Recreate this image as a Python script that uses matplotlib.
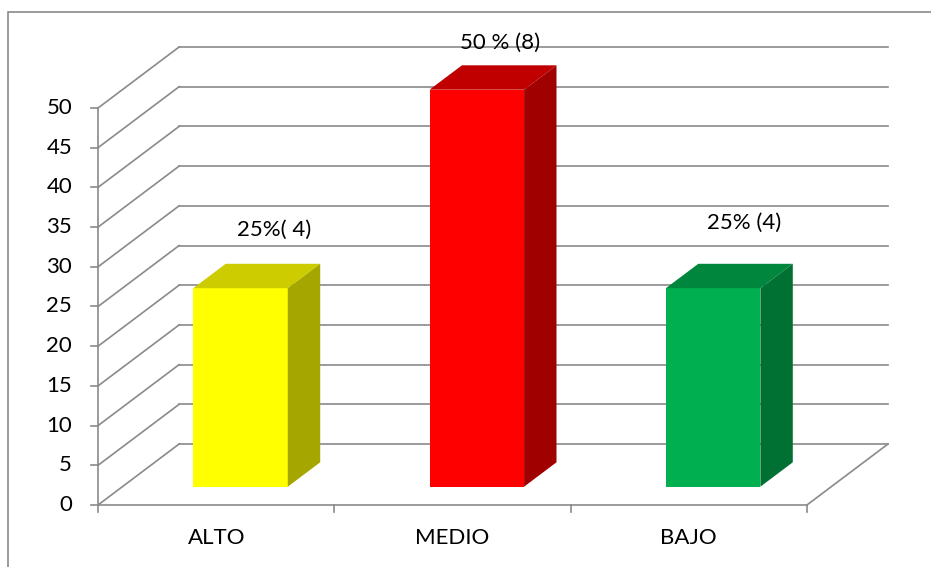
"""3D-style column chart: ALTO / MEDIO / BAJO."""

import matplotlib

matplotlib.use("Agg")
import matplotlib.pyplot as plt
from matplotlib.patches import Polygon, Rectangle

categories = ["ALTO", "MEDIO", "BAJO"]
values = [25, 50, 25]
labels = ["25%( 4)", "50 % (8)", "25% (4)"]
y_ticks = [0, 5, 10, 15, 20, 25, 30, 35, 40, 45, 50]

front_colors = ["#FFFF00", "#FF0000", "#00B050"]
top_colors = ["#CCCC00", "#C00000", "#00873D"]
side_colors = ["#A6A600", "#A00000", "#007033"]

# label nudges (category units, value units) relative to bar centre / top
label_shift = [(0.245, 9.6), (0.20, 8.2), (0.235, 10.5)]

GRID = "#8A8A8A"
LW = 1.2
FS = 16
DX, DY = 0.343, 7.68          # depth offset of the back wall
BAR_W, D0, T = 0.40, 0.30, 0.40   # bar width, front depth, bar depth

plt.rcParams["font.family"] = ["Lato", "DejaVu Sans"]

fig = plt.figure(figsize=(9.31, 5.67), dpi=100)
ax = fig.add_axes([0, 0, 1, 1])
ax.set_xlim(-0.415, 3.525)
ax.set_ylim(-7.81, 63.6)
ax.axis("off")

n = len(categories)

# back wall + left wall gridlines
for v in y_ticks:
    ax.plot([DX, n + DX], [v + DY, v + DY], color=GRID, lw=LW, zorder=1)
    ax.plot([0, DX], [v, v + DY], color=GRID, lw=LW, zorder=1)
    ax.plot([-0.03, 0], [v, v], color=GRID, lw=LW, zorder=1)
    ax.text(-0.11, v, str(v), ha="right", va="center", fontsize=FS, zorder=3)

# floor
ax.plot([0, n], [0, 0], color=GRID, lw=LW, zorder=1)
ax.plot([n, n + DX], [0, DY], color=GRID, lw=LW, zorder=1)
ax.plot([0, 0], [0, max(y_ticks)], color=GRID, lw=LW, zorder=1)
for i in range(n + 1):
    ax.plot([i, i], [0, -0.9], color=GRID, lw=LW, zorder=1)

for i, (cat, v) in enumerate(zip(categories, values)):
    x0 = i + 0.5 - BAR_W / 2 + D0 * DX
    yb = D0 * DY
    yt = yb + v
    tx, ty = T * DX, T * DY
    ax.add_patch(Rectangle((x0, yb), BAR_W, v, facecolor=front_colors[i],
                           edgecolor="none", zorder=2))
    ax.add_patch(Polygon([(x0, yt), (x0 + BAR_W, yt), (x0 + BAR_W + tx, yt + ty),
                          (x0 + tx, yt + ty)], closed=True,
                         facecolor=top_colors[i], edgecolor="none", zorder=2))
    ax.add_patch(Polygon([(x0 + BAR_W, yb), (x0 + BAR_W + tx, yb + ty),
                          (x0 + BAR_W + tx, yt + ty), (x0 + BAR_W, yt)], closed=True,
                         facecolor=side_colors[i], edgecolor="none", zorder=2))
    sx, sy = label_shift[i]
    ax.text(i + 0.5 + sx, v + sy, labels[i], ha="center", va="center",
            fontsize=FS, zorder=3)
    ax.text(i + 0.5, -4.2, cat, ha="center", va="center", fontsize=FS, zorder=3)

# chart area border (clipped at right and bottom in the original)
fig.patches.append(Rectangle((8 / 931, -0.1), 1.2, 1 - 12 / 567 + 0.1,
                             transform=fig.transFigure, fill=False,
                             edgecolor=GRID, lw=1.2))

fig.savefig("out.png", dpi=100)
plt.close(fig)
